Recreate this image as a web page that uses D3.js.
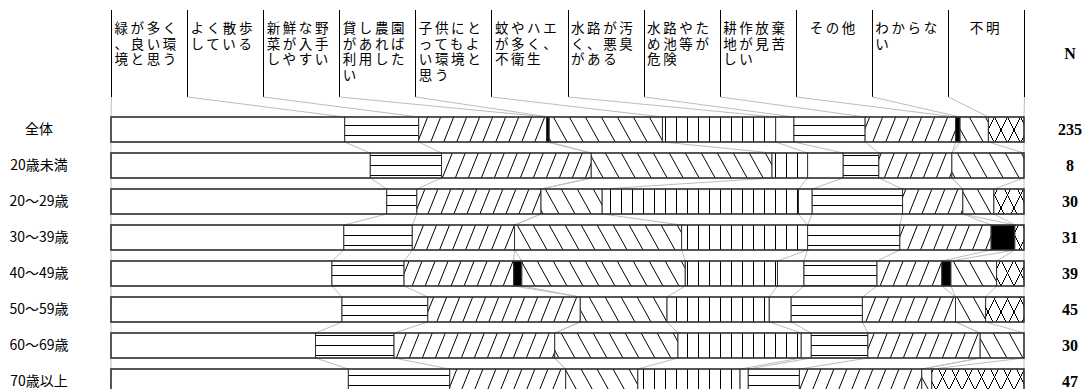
<!DOCTYPE html>
<html><head><meta charset="utf-8">
<script src="https://cdn.jsdelivr.net/npm/d3@7"></script>
<style>body{margin:0;background:#fff;} svg{display:block;}</style>
</head><body><svg id="c" width="1085" height="389"></svg>
<script>
const categories = ["緑が多く、良い環境と思う","よく散歩している","新鮮な野菜が入手しやすい","貸し農園があれば利用したい","子供にとってもよい環境と思う","蚊やハエが多く、不衛生","水路が汚く、悪臭がある","水路やため池等が危険","耕作放棄地が見苦しい","その他","わからない","不明"];
const groups = ["全体","20歳未満","20～29歳","30～39歳","40～49歳","50～59歳","60～69歳","70歳以上"];
const nValues = [235, 8, 30, 31, 39, 45, 30, 47];
// percentages per group, in category order
const vTotal   = [25.6, 8.1, 14.0, 0.3, 12.4, 12.4, 2.0, 7.8, 9.9, 0.5, 3.1, 3.9];
const vUnder20 = [28.4, 7.8, 16.4, 0, 19.8, 3.9, 3.9, 3.9, 8.0, 0, 7.9, 0];
const v20s     = [30.2, 3.3, 13.6, 0, 6.7, 21.5, 1.5, 9.9, 6.6, 0, 3.4, 3.3];
const v30s     = [25.5, 7.5, 11.2, 0, 18.3, 13.8, 0, 10.1, 10.0, 2.6, 0, 1.0];
const v40s     = [24.2, 7.9, 12.0, 0.9, 17.9, 10.1, 2.9, 8.0, 7.1, 1.0, 5.0, 3.0];
const v50s     = [25.3, 9.4, 16.7, 0, 9.5, 11.2, 2.4, 7.8, 10.2, 0, 3.3, 4.2];
const v60s     = [22.4, 8.6, 17.6, 0, 13.5, 13.5, 1.1, 6.2, 12.3, 0, 4.8, 0];
const v70plus  = [26.0, 11.1, 12.7, 0, 7.9, 11.2, 0.9, 5.6, 13.4, 0, 1.1, 10.1];
const seriesValues = [vTotal, vUnder20, v20s, v30s, v40s, v50s, v60s, v70plus];
const fills = ["#fff","url(#ph)","url(#pf)","#000","url(#pb)","url(#pv)","#fff","url(#ph)","url(#pf)","#000","url(#pb)","url(#px)"];

const svg = d3.select("#c");
const defs = svg.append("defs");
function linePattern(id, w, h, d, transform){
  const p = defs.append("pattern").attr("id", id).attr("patternUnits","userSpaceOnUse")
    .attr("width", w).attr("height", h);
  if (transform) p.attr("patternTransform", transform);
  p.append("rect").attr("width", w).attr("height", h).attr("fill","#fff");
  p.append("path").attr("d", d).attr("stroke","#000").attr("stroke-width",1).attr("fill","none")
    .attr("shape-rendering","crispEdges");
}
linePattern("ph", 20, 10, "M0,5.5H20");
linePattern("pv", 11, 20, "M5.5,0V20");
linePattern("pf", 13, 20, "M6.5,-2V22", "skewX(-21.8)");
linePattern("pb", 16, 20, "M8,-2V22", "skewX(29)");
linePattern("px", 13, 26, "M0,0L13,26M13,0L0,26M-6.5,13L0,26M6.5,-13L13,0");

const x = d3.scaleLinear().domain([0,1]).range([111,1024]);
const y = d3.scaleBand().domain(groups).range([111.5, 399.5]).paddingInner(11/36).paddingOuter(5.5/36);
const hx = d3.scaleBand().domain(categories).range([111,1024]);

const table = groups.map((g,i) => { const o = {group:g}; categories.forEach((c,j) => o[c] = seriesValues[i][j]); return o; });
const stack = d3.stack().keys(categories).offset(d3.stackOffsetExpand)(table);
const bounds = groups.map((g,i) => [0].concat(stack.map(s => s[i][1])));

// header
const hTop = 10, hBot = 97;
const sepX = [hx.range()[0]].concat(categories.map(c => hx(c) + hx.bandwidth()));
svg.append("g").selectAll("line").data(sepX).join("line")
  .attr("x1", d => Math.round(d)+0.5).attr("x2", d => Math.round(d)+0.5)
  .attr("y1", hTop).attr("y2", hBot).attr("stroke","#000").attr("stroke-width",1);
const hg = svg.append("g").attr("font-family","'Noto Sans CJK JP','Noto Sans CJK SC',sans-serif")
  .attr("font-size", 13.5).attr("fill","#000");
categories.forEach(c => {
  const chars = Array.from(c);
  const lines = [];
  for (let i = 0; i < chars.length; i += 4) lines.push(chars.slice(i, i+4).join(""));
  const single = lines.length === 1;
  const tx = single ? hx(c) + hx.bandwidth()/2 : hx(c) + 3.5;
  lines.forEach((l,k) => hg.append("text").attr("x", tx)
    .attr("text-anchor", single ? "middle" : "start")
    .attr("letter-spacing", 2.6)
    .attr("y", 33 + k*15.5).text(l));
});

// connectors (gray)
const conn = svg.append("g").attr("stroke","#bdbdbd").attr("stroke-width",1);
sepX.forEach((sx,k) => {
  conn.append("line").attr("x1", Math.round(sx)+0.5).attr("y1", hBot)
    .attr("x2", x(bounds[0][k])).attr("y2", y(groups[0]));
});
for (let i = 0; i < groups.length-1; i++) {
  bounds[i].forEach((b,k) => {
    conn.append("line").attr("x1", x(b)).attr("y1", y(groups[i]) + y.bandwidth())
      .attr("x2", x(bounds[i+1][k])).attr("y2", y(groups[i+1]));
  });
}

// bars
const bars = svg.append("g");
stack.forEach((s,j) => {
  bars.append("g").selectAll("rect").data(s.filter(d => d[1]-d[0] > 1e-6)).join("rect")
    .attr("x", d => x(d[0])).attr("width", d => x(d[1]) - x(d[0]))
    .attr("y", d => y(d.data.group)).attr("height", y.bandwidth())
    .attr("fill", fills[j]).attr("stroke","#333").attr("stroke-width",1);
});
bars.append("g").selectAll("rect").data(groups).join("rect")
  .attr("x", x(0)).attr("width", x(1)-x(0)).attr("y", d => y(d)).attr("height", y.bandwidth())
  .attr("fill","none").attr("stroke","#333").attr("stroke-width",1.3);

// row labels
svg.append("g").selectAll("text").data(groups).join("text")
  .attr("x", 39).attr("y", d => y(d) + y.bandwidth()/2).attr("dy","0.33em")
  .attr("text-anchor","middle").attr("font-family","'Noto Sans CJK JP',sans-serif").attr("font-size",14)
  .text(d => d);

// N column
const nx = 1070;
svg.append("text").attr("x", nx).attr("y", 59).attr("text-anchor","middle")
  .attr("font-family","'Liberation Serif','Times New Roman',serif").attr("font-weight","bold").attr("font-size",16).text("N");
svg.append("g").selectAll("text").data(nValues).join("text")
  .attr("x", nx).attr("y", (d,i) => y(groups[i]) + y.bandwidth()/2).attr("dy","0.35em")
  .attr("text-anchor","middle").attr("font-family","'Liberation Serif','Times New Roman',serif")
  .attr("font-weight","bold").attr("font-size",16).text(d => d);
</script></body></html>
